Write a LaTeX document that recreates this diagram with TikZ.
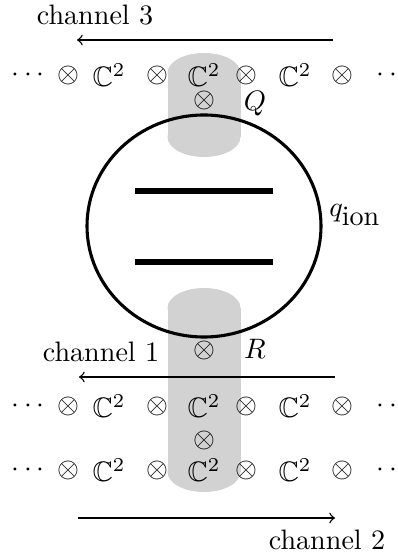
\documentclass[tikz,border=0pt]{standalone}
\usepackage{amssymb}
\usetikzlibrary{positioning}

\begin{document}
\begin{tikzpicture}[x=0.0125cm, y=-0.0125cm,
  tube/.style={fill=gray!35},
  site/.style={inner sep=0pt},
  chan/.style={->, line width=0.5pt},
  plate/.style={line width=1.8pt}]
\useasboundingbox (0,0) rectangle (398,554);
% grey tubes
\fill[tube] (204,73) ellipse[x radius=36.5, y radius=20];
\fill[tube] (167.5,73) rectangle (240.5,137);
\fill[tube] (204,137) ellipse[x radius=36.5, y radius=20];
\fill[tube] (204,308) ellipse[x radius=36.5, y radius=20];
\fill[tube] (167.5,308) rectangle (240.5,472);
\fill[tube] (204,472) ellipse[x radius=36.5, y radius=20];
% ion
\draw[line width=1.1pt] (204,226) ellipse[x radius=117, y radius=111];
\draw[plate] (135,191) -- (273,191);
\draw[plate] (135,262) -- (273,262);
\node[site] (qion) at (355,215) {$q_{\mbox{ion}}$};
% chains
\foreach \y/\n in {75/top,406/mid,470/bot} {
  \node[site] (\n0) at (28,\y) {$\cdots$};
  \node[site] (\n1) at (68,\y) {$\otimes$};
  \node[site] (\n2) at (109,\y) {$\mathbb{C}^2$};
  \node[site] (\n3) at (157,\y) {$\otimes$};
  \node[site] (\n4) at (204,\y) {$\mathbb{C}^2$};
  \node[site] (\n5) at (246,\y) {$\otimes$};
  \node[site] (\n6) at (295,\y) {$\mathbb{C}^2$};
  \node[site] (\n7) at (342,\y) {$\otimes$};
  \node[site] (\n8) at (393,\y) {$\cdots$};
}
\node[site] (q) at (204,100) {$\otimes$};
\node[site] (Q) at (255,104) {$Q$};
\node[site] (r) at (204,350) {$\otimes$};
\node[site] (R) at (255,349) {$R$};
\node[site] (m) at (204,440) {$\otimes$};
% channels
\node (c3) at (95,15) {channel 3};
\node (c1) at (101,352) {channel 1};
\node (c2) at (327,540) {channel 2};
\coordinate (s3) at (333,40);
\coordinate (e3) at (77,40);
\coordinate (s1) at (335,377);
\coordinate (e1) at (79,377);
\coordinate (s2) at (78,518);
\coordinate (e2) at (335,518);
\draw[chan] (s3) -- (e3);
\draw[chan] (s1) -- (e1);
\draw[chan] (s2) -- (e2);
\end{tikzpicture}
\end{document}
